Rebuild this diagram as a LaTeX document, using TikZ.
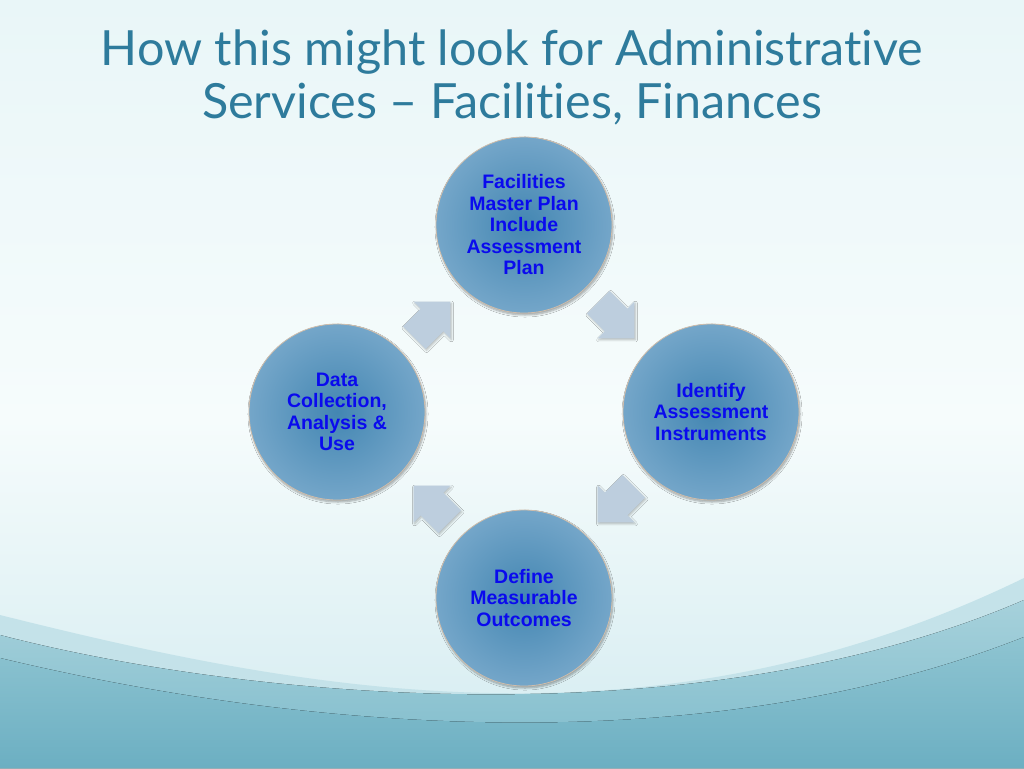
\documentclass[tikz,border=0pt]{standalone}
\usepackage{fontspec}
\setmainfont{Lato}[Ligatures={NoCommon}]
\newfontfamily\boxfont{Liberation Sans}[Ligatures={NoCommon}]
\usetikzlibrary{shadows.blur}
\definecolor{titlecol}{HTML}{2E7B9C}
\definecolor{txtblue}{HTML}{0A0AEE}
\definecolor{circin}{HTML}{4386B2}
\definecolor{circout}{HTML}{74A6C9}
\definecolor{arrowcol}{HTML}{BDCEDE}
\definecolor{bgtop}{HTML}{E9F6F8}
\definecolor{bgmid}{HTML}{F6FCFC}
\definecolor{bglow}{HTML}{D3EBF0}
\definecolor{band1}{HTML}{C4E2E9}
\definecolor{band2t}{HTML}{A6D1DB}
\definecolor{band2b}{HTML}{7EBBCB}
\definecolor{band3t}{HTML}{8EC4D1}
\definecolor{band3b}{HTML}{6CAFC2}
\tikzset{
  stagecircle/.style={circle, minimum size=176pt, inner sep=0pt,
    shading=radial, inner color=circin, outer color=circout,
    draw=black!30!brown!40, line width=0.8pt,
    blur shadow={shadow xshift=1pt, shadow yshift=-2pt, shadow blur steps=6, shadow opacity=35},
    font=\boxfont\bfseries\fontsize{19.5}{21.5}\selectfont, text=txtblue, align=center},
  cyclearrow/.style={fill=arrowcol, draw=none,
    blur shadow={shadow xshift=1pt, shadow yshift=-1.5pt, shadow blur steps=4, shadow opacity=25}},
  titletext/.style={font=\fontsize{48.5}{52}\selectfont, text=titlecol, inner sep=0pt}
}
\begin{document}
\begin{tikzpicture}[x=1pt,y=-1pt]
\useasboundingbox (0,0) rectangle (1024,768);
% background
\fill[top color=bgtop, bottom color=bgmid] (0,0) rectangle (1024,420);
\fill[top color=bgmid, bottom color=bglow] (0,420) rectangle (1024,768);
\fill[band1] (0,615) .. controls (300,690) and (650,760) .. (1024,578) -- (1024,768) -- (0,768) -- cycle;
\fill[top color=band2t, bottom color=band2b] (0,635) .. controls (250,700) and (700,740) .. (1024,600) -- (1024,768) -- (0,768) -- cycle;
\fill[top color=band3t, bottom color=band3b] (0,658) .. controls (300,730) and (700,765) .. (1024,637) -- (1024,768) -- (0,768) -- cycle;
% title
\node[titletext] (t1) at (512,52) {How this might look for Administrative};
\node[titletext] (t2) at (512,104) {Services -- Facilities, Finances};
% circles
\node[stagecircle] (c1) at (524,225) {Facilities\\Master Plan\\Include\\Assessment\\Plan};
\node[stagecircle] (c2) at (711,412) {Identify\\Assessment\\Instruments};
\node[stagecircle] (c3) at (524,598) {Define\\Measurable\\Outcomes};
\node[stagecircle] (c4) at (337,412) {Data\\Collection,\\Analysis \&\\Use};
% arrows
\foreach \nm/\px/\py/\ang in {a1/432/320/45, a2/616/320/-45, a3/616/504/-135, a4/432/504/135}{
  \coordinate (\nm) at (\px,\py);
  \begin{scope}[shift={(\nm)}, rotate=\ang]
    \path[cyclearrow] (-25,-16) -- (0,-16) -- (0,-26) -- (26,0) -- (0,26) -- (0,16) -- (-25,16) -- cycle;
  \end{scope}
}
\end{tikzpicture}
\end{document}
